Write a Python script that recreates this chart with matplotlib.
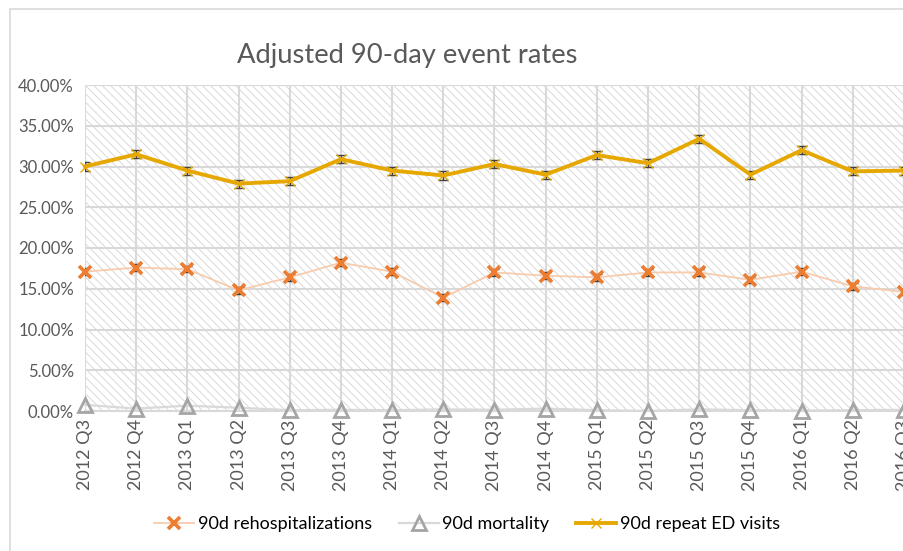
import numpy as np
import matplotlib.pyplot as plt
from matplotlib.patches import Rectangle
from matplotlib.ticker import FuncFormatter

plt.rcParams['font.family'] = ['Lato', 'DejaVu Sans']
plt.rcParams['hatch.linewidth'] = 0.6

# data
quarters = ['2012 Q3', '2012 Q4', '2013 Q1', '2013 Q2', '2013 Q3', '2013 Q4',
            '2014 Q1', '2014 Q2', '2014 Q3', '2014 Q4', '2015 Q1', '2015 Q2',
            '2015 Q3', '2015 Q4', '2016 Q1', '2016 Q2', '2016 Q3']
rehosp = [17.1, 17.6, 17.4, 14.8, 16.4, 18.2, 17.1, 13.9, 17.0, 16.6,
          16.4, 17.0, 17.0, 16.1, 17.1, 15.3, 14.6]
rehosp_err = [0.4, 0.4, 0.4, 0.4, 0.4, 0.4, 0.4, 0.4, 0.4, 0.4,
              0.4, 0.4, 0.4, 0.4, 0.4, 0.4, 0.4]
mortality = [0.75, 0.3, 0.65, 0.4, 0.1, 0.15, 0.1, 0.2, 0.15, 0.3,
             0.1, 0.0, 0.2, 0.1, 0.05, 0.1, 0.15]
ed_visits = [30.0, 31.5, 29.5, 27.9, 28.2, 30.9, 29.5, 28.9, 30.3, 29.0,
             31.4, 30.4, 33.4, 29.0, 32.0, 29.4, 29.5]
ed_err = [0.5, 0.5, 0.5, 0.5, 0.5, 0.5, 0.5, 0.5, 0.5, 0.5,
          0.5, 0.5, 0.5, 0.5, 0.5, 0.5, 0.5]

grid_c = '#D9D9D9'
text_c = '#595959'

fig = plt.figure(figsize=(9.04, 5.51), dpi=100)
# outer chart border (cropped on the right and bottom)
fig.patches.append(Rectangle((10 / 904, -0.1), 1.2, 1 - 9 / 551 + 0.1,
                             transform=fig.transFigure, fill=False,
                             edgecolor=grid_c, lw=1.2))

ax = fig.add_axes([85 / 904, 1 - 411 / 551, 1 - 85 / 904, 326 / 551])
x = np.arange(len(quarters))

# hatched plot-area background
ax.add_patch(Rectangle((0, 0), 1, 1, transform=ax.transAxes, facecolor='white',
                       edgecolor='#D3D3D3', hatch='\\\\\\\\', lw=0, zorder=0))

ax.errorbar(x, ed_visits, yerr=ed_err, fmt='none', ecolor='#404040',
            elinewidth=1, capsize=3.5, capthick=1, zorder=3)
ax.errorbar(x, rehosp, yerr=rehosp_err, fmt='none', ecolor='#404040',
            elinewidth=1, capsize=3.5, capthick=1, zorder=3)

ax.plot(x, rehosp, color='#F8CBAD', lw=1.3, marker='x', ms=8, mew=2.6,
        mec='#ED7D31', label='90d rehospitalizations', zorder=4, clip_on=False)
ax.plot(x, mortality, color=grid_c, lw=1.6, marker='^', ms=9.5, mew=2,
        mec='#A5A5A5', mfc='none', label='90d mortality', zorder=4, clip_on=False)
ax.plot(x, ed_visits, color='#E6A800', lw=2.8, marker='x', ms=7, mew=1,
        mec='#E6A800', label='90d repeat ED visits', zorder=4, clip_on=False)

ax.set_xlim(0, 16)
ax.set_ylim(0, 40)
ax.set_yticks(np.arange(0, 41, 5))
ax.yaxis.set_major_formatter(FuncFormatter(lambda v, p: f'{v:.2f}%'))
ax.set_xticks(x)
ax.set_xticklabels(quarters, rotation=90)
ax.tick_params(length=0, colors=text_c)
ax.tick_params(axis='y', labelsize=12, pad=8)
ax.tick_params(axis='x', labelsize=13, pad=6)
ax.grid(True, color=grid_c, lw=1.5, zorder=1)
ax.set_axisbelow(True)
for s in ['top', 'right', 'left']:
    ax.spines[s].set_visible(False)
ax.spines['bottom'].set_color(grid_c)
ax.spines['bottom'].set_linewidth(1.5)

fig.text(407 / 904, 1 - 55 / 551, 'Adjusted 90-day event rates', ha='center',
         va='center', fontsize=19.7, color=text_c)

fig.legend(loc='center', bbox_to_anchor=(467 / 904, 1 - 524 / 551), ncol=3,
           frameon=False, fontsize=13, labelcolor='black', handlelength=2.2,
           columnspacing=1.5, handletextpad=0.2)

fig.savefig('out.png', dpi=100)
